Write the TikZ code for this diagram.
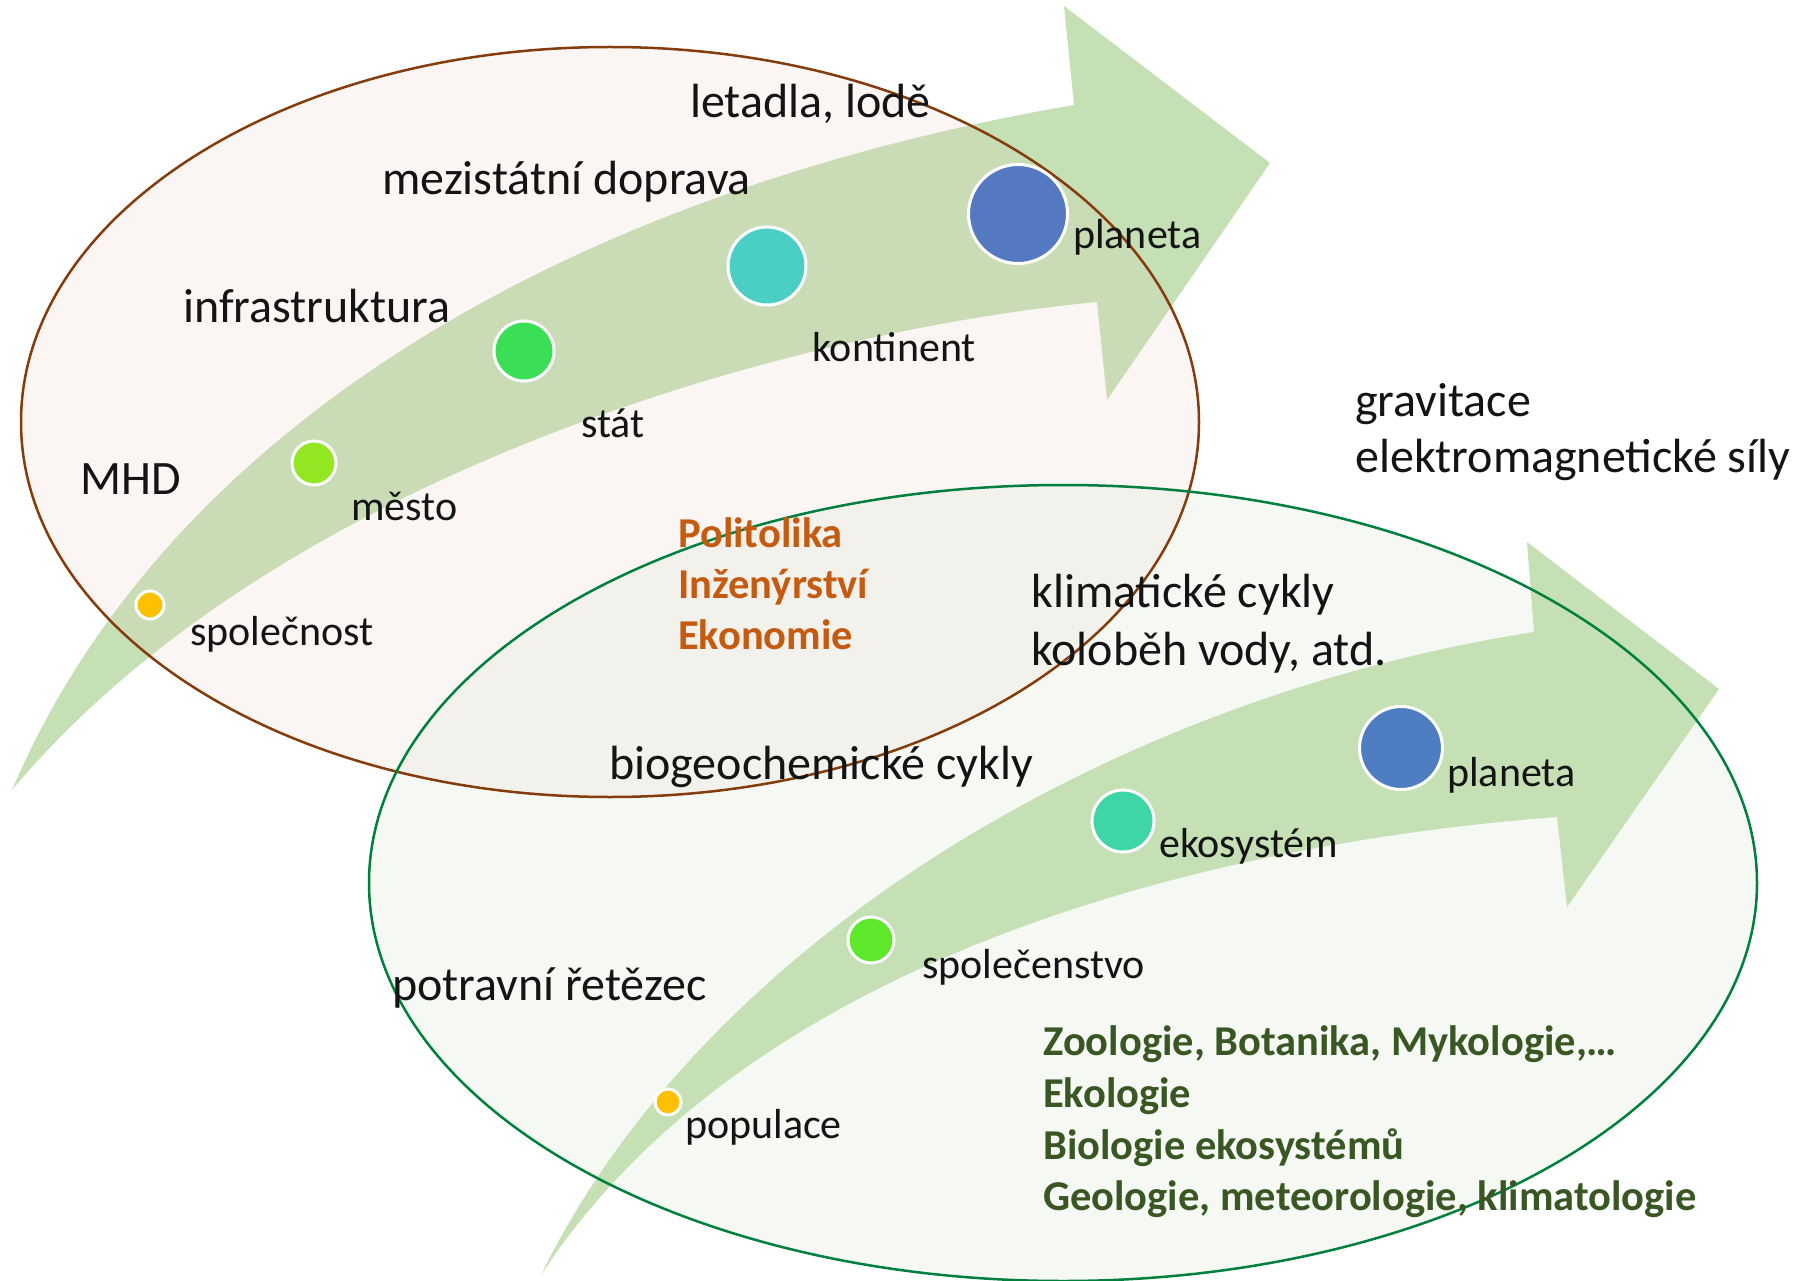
\documentclass[tikz,border=0pt]{standalone}
\usepackage{fontspec}
\setmainfont{Carlito}
\definecolor{arrowgreen}{RGB}{197,224,180}
\definecolor{pinkfill}{RGB}{235,203,190}
\definecolor{greenfill}{RGB}{203,216,190}
\definecolor{brownline}{RGB}{132,60,12}
\definecolor{greenline}{RGB}{0,128,60}
\definecolor{orangetxt}{RGB}{197,90,17}
\definecolor{greentxt}{RGB}{56,87,35}
\definecolor{txt}{RGB}{20,20,20}
\definecolor{cgold}{RGB}{255,192,0}
\definecolor{clime}{RGB}{146,230,34}
\definecolor{cstat}{RGB}{59,223,85}
\definecolor{ckont}{RGB}{75,207,196}
\definecolor{cplan}{RGB}{84,121,193}
\definecolor{cspol}{RGB}{94,232,43}
\definecolor{ceko}{RGB}{62,214,166}
\definecolor{cplanb}{RGB}{79,125,194}
\tikzset{
  dot/.style={circle, draw=white, line width=3pt, inner sep=0pt},
  big/.style={anchor=base west, inner sep=0pt, text=txt, font=\fontsize{48}{57}\selectfont},
  small/.style={anchor=base west, inner sep=0pt, text=txt, font=\fontsize{42}{50}\selectfont},
  orangebold/.style={anchor=base west, inner sep=0pt, text=orangetxt, font=\fontsize{42.5}{50}\selectfont\bfseries},
  greenbold/.style={anchor=base west, inner sep=0pt, text=greentxt, font=\fontsize{42.5}{50}\selectfont\bfseries},
}
\begin{document}
\begin{tikzpicture}[x=1pt, y=-1pt]
\useasboundingbox (0,0) rectangle (1797,1281);
\fill[white] (0,0) rectangle (1797,1281);
% upper arrow
\fill[arrowgreen] (12,790) .. controls (170,420) and (580,190) .. (1074,105)
  -- (1064,6) -- (1270,163) -- (1107,400) -- (1097,302)
  .. controls (800,330) and (280,470) .. cycle;
% ellipse fills
\fill[pinkfill, fill opacity=0.155] (610,422) ellipse [x radius=589pt, y radius=375pt];
\fill[greenfill, fill opacity=0.155] (1063,883) ellipse [x radius=694pt, y radius=398pt];
% lower arrow
\fill[arrowgreen] (541,1275) .. controls (700,950) and (1100,700) .. (1534,632)
  -- (1527,542) -- (1719,689) -- (1567,907) -- (1557,817)
  .. controls (1250,840) and (760,940) .. cycle;
% ellipse borders
\draw[brownline, line width=2.5pt] (610,422) ellipse [x radius=589pt, y radius=375pt];
\draw[greenline, line width=2.5pt] (1063,883) ellipse [x radius=694pt, y radius=398pt];
% dots upper
\node[dot, fill=cgold, minimum size=28pt] (d1) at (150,605) {};
\node[dot, fill=clime, minimum size=44pt] (d2) at (314,463) {};
\node[dot, fill=cstat, minimum size=60pt] (d3) at (524,351) {};
\node[dot, fill=ckont, minimum size=78pt] (d4) at (767,266) {};
\node[dot, fill=cplan, minimum size=99pt] (d5) at (1018,214) {};
% dots lower
\node[dot, fill=cgold, minimum size=26pt] (e1) at (668,1102) {};
\node[dot, fill=cspol, minimum size=46pt] (e2) at (871,940) {};
\node[dot, fill=ceko, minimum size=62pt] (e3) at (1123,821) {};
\node[dot, fill=cplanb, minimum size=83pt] (e4) at (1401,748) {};
% texts upper
\node[big] (t1) at (690,118) {letadla, lodě};
\node[big] (t2) at (382,195) {mezistátní doprava};
\node[big] (t3) at (183,323) {infrastruktura};
\node[big] (t4) at (80,494) {MHD};
\node[small] (l5) at (1073,249) {planeta};
\node[small] (l4) at (812,362) {kontinent};
\node[small] (l3) at (581,437) {stát};
\node[small] (l2) at (351,520) {město};
\node[small] (l1) at (190,645) {společnost};
\node[orangebold] (o1) at (678,547) {Politolika};
\node[orangebold] (o2) at (678,598) {Inženýrství};
\node[orangebold] (o3) at (678,649) {Ekonomie};
\node[big] (g1) at (1355,416) {gravitace};
\node[big] (g2) at (1355,472) {elektromagnetické síly};
\node[big] (k1) at (1031,607) {klimatické cykly};
\node[big] (k2) at (1031,665) {koloběh vody, atd.};
\node[big] (b1) at (609,779) {biogeochemické cykly};
\node[big] (p1) at (392,1000) {potravní řetězec};
% texts lower
\node[small] (m4) at (1447,786) {planeta};
\node[small] (m3) at (1159,857) {ekosystém};
\node[small] (m2) at (922,978) {společenstvo};
\node[small] (m1) at (685,1138) {populace};
\node[greenbold] (z1) at (1043,1055) {Zoologie, Botanika, Mykologie,…};
\node[greenbold] (z2) at (1043,1107) {Ekologie};
\node[greenbold] (z3) at (1043,1159) {Biologie ekosystémů};
\node[greenbold] (z4) at (1043,1210) {Geologie, meteorologie, klimatologie};
\end{tikzpicture}
\end{document}
